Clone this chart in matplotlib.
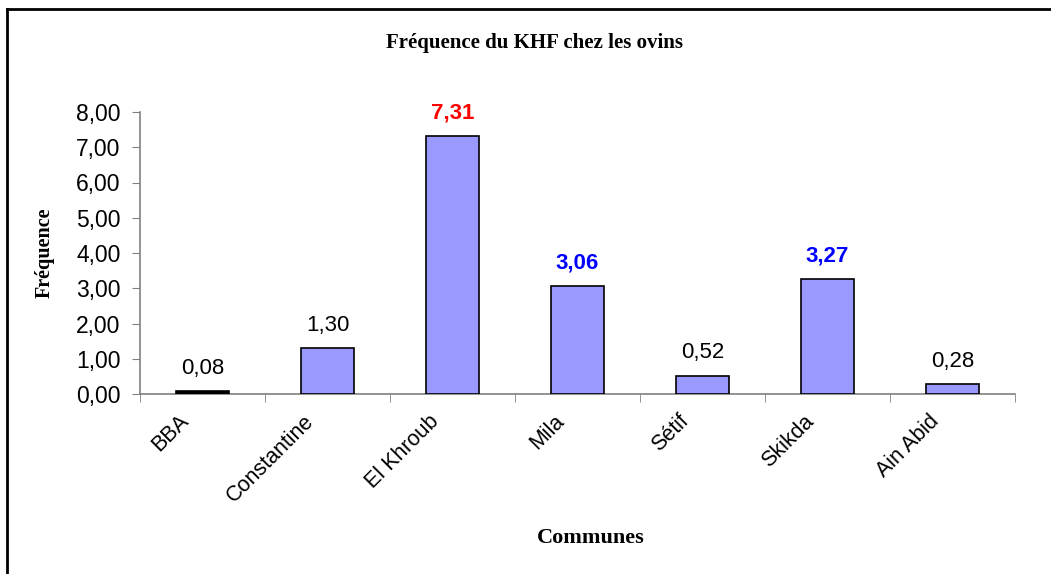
import matplotlib.pyplot as plt
import matplotlib.transforms as mtransforms
import numpy as np

communes = ["BBA", "Constantine", "El Khroub", "Mila", "Sétif", "Skikda", "Ain Abid"]
frequence = [0.08, 1.30, 7.31, 3.06, 0.52, 3.27, 0.28]
bar_colors = ["black", "#9999FF", "#9999FF", "#9999FF", "#9999FF", "#9999FF", "#9999FF"]
label_colors = ["black", "black", "red", "blue", "black", "blue", "black"]
label_bold = [False, False, True, True, False, True, False]

plt.rcParams["font.family"] = ["Liberation Sans", "DejaVu Sans"]

fig = plt.figure(figsize=(10.51, 5.74), dpi=100)
ax = fig.add_axes([140 / 1051, 1 - 394 / 574, 875 / 1051, 282 / 574])

x = np.arange(len(communes))
ax.bar(x, frequence, width=0.42, color=bar_colors, edgecolor="black", linewidth=1.2, zorder=3)

for xi, v, c, b in zip(x, frequence, label_colors, label_bold):
    ax.annotate(f"{v:.2f}".replace(".", ","), (xi, v), xytext=(0, 9), textcoords="offset points",
                ha="center", va="bottom", fontsize=16, color=c,
                fontweight="bold" if b else "normal")

ax.set_xlim(-0.5, len(communes) - 0.5)
ax.set_ylim(0, 8)
ax.set_yticks(np.arange(0, 9, 1))
ax.set_yticklabels([f"{t:.2f}".replace(".", ",") for t in range(9)], fontsize=16.5)
ax.set_xticks(x)
ax.set_xticklabels(communes, rotation=45, ha="right", rotation_mode="anchor", fontsize=15.5)
ax.set_xticks(np.arange(-0.5, len(communes), 1), minor=True)
ax.tick_params(axis="x", which="major", length=0, pad=12)
ax.tick_params(axis="x", which="minor", length=6, color="#808080", direction="out")
ax.tick_params(axis="y", length=6, color="#808080", direction="out", pad=8)

# move rotated labels left so they end just left of the bar
shift = mtransforms.ScaledTranslation(-24 / 100, 0, fig.dpi_scale_trans)
for lbl in ax.get_xticklabels():
    lbl.set_transform(lbl.get_transform() + shift)

for s in ["top", "right"]:
    ax.spines[s].set_visible(False)
for s in ["left", "bottom"]:
    ax.spines[s].set_color("#808080")
    ax.spines[s].set_linewidth(1.2)

fig.text(534 / 1051, 1 - 43 / 574, "Fréquence du KHF chez les ovins", ha="center", va="center",
         fontsize=15, fontweight="bold", family="Liberation Serif")
fig.text(45 / 1051, 1 - 253 / 574, "Fréquence", ha="center", va="center", rotation=90,
         fontsize=14.5, fontweight="bold", family="Liberation Serif")
fig.text(591 / 1051, 1 - 538 / 574, "Communes", ha="center", va="center",
         fontsize=16, fontweight="bold", family="Liberation Serif")

# frame lines (top and left)
fig.add_artist(plt.Line2D([7 / 1051, 1], [1 - 8.5 / 574, 1 - 8.5 / 574], color="black", lw=2, transform=fig.transFigure))
fig.add_artist(plt.Line2D([7 / 1051, 7 / 1051], [0, 1 - 8.5 / 574], color="black", lw=2, transform=fig.transFigure))

fig.savefig("out.png", dpi=100)
